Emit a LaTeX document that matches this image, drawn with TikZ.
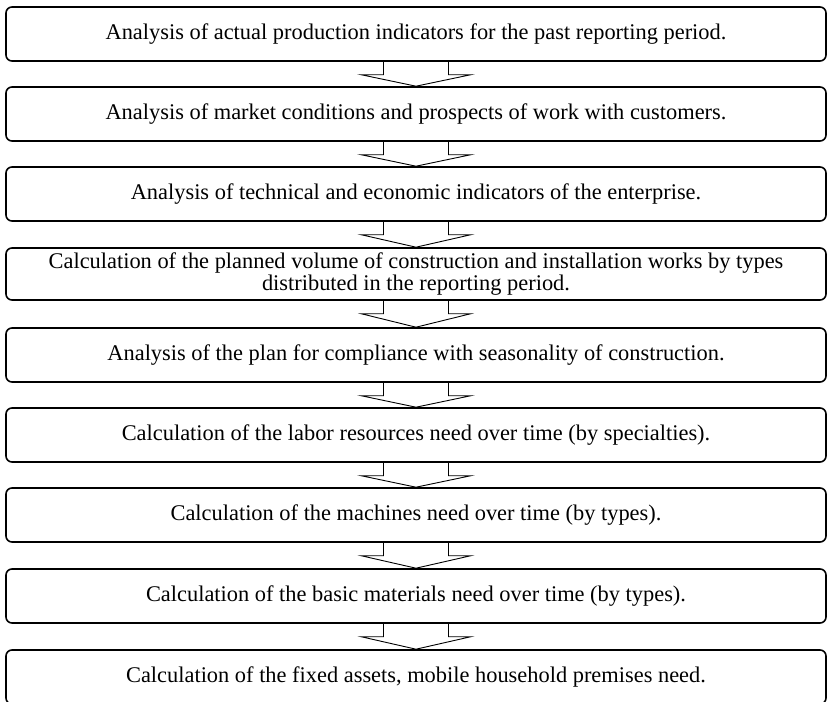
\documentclass[tikz,border=0pt]{standalone}
\usepackage{fontspec}
\setmainfont{Liberation Serif}
\usetikzlibrary{calc}
\tikzset{
  stage/.style={draw, line width=1.6pt, rounded corners=6pt, minimum width=820pt,
    minimum height=54pt, inner sep=0pt, align=center, font=\fontsize{22.4}{22}\selectfont},
  flow/.style={draw, line width=0.9pt, line join=miter}
}
% hollow block arrow from the bottom of one stage to the top of the next
\newcommand\stagearrow[2]{%
  \draw[flow] let \p1=(#1.south), \p2=(#2.north) in
    (\x1-32.5pt,\y1) -- (\x1-32.5pt,\y1-13pt) -- (\x1-54.5pt,\y1-13pt) --
    (\x1,\y2) -- (\x1+54.5pt,\y1-13pt) -- (\x1+32.5pt,\y1-13pt) -- (\x1+32.5pt,\y1);}
\begin{document}
\begin{tikzpicture}[x=1pt,y=1pt]
\useasboundingbox (0,0) rectangle (828,702);
\node[stage] (b1) at (416,668) {Analysis of actual production indicators for the past reporting period.};
\node[stage] (b2) at (416,588) {Analysis of market conditions and prospects of work with customers.};
\node[stage] (b3) at (416,508) {Analysis of technical and economic indicators of the enterprise.};
\node[stage, minimum height=52pt] (b4) at (416,428) {Calculation of the planned volume of construction and installation works by types\\distributed in the reporting period.};
\node[stage] (b5) at (416,347) {Analysis of the plan for compliance with seasonality of construction.};
\node[stage] (b6) at (416,267) {Calculation of the labor resources need over time (by specialties).};
\node[stage] (b7) at (416,187) {Calculation of the machines need over time (by types).};
\node[stage] (b8) at (416,106) {Calculation of the basic materials need over time (by types).};
\node[stage] (b9) at (416,25) {Calculation of the fixed assets, mobile household premises need.};
\stagearrow{b1}{b2}
\stagearrow{b2}{b3}
\stagearrow{b3}{b4}
\stagearrow{b4}{b5}
\stagearrow{b5}{b6}
\stagearrow{b6}{b7}
\stagearrow{b7}{b8}
\stagearrow{b8}{b9}
\end{tikzpicture}
\end{document}
